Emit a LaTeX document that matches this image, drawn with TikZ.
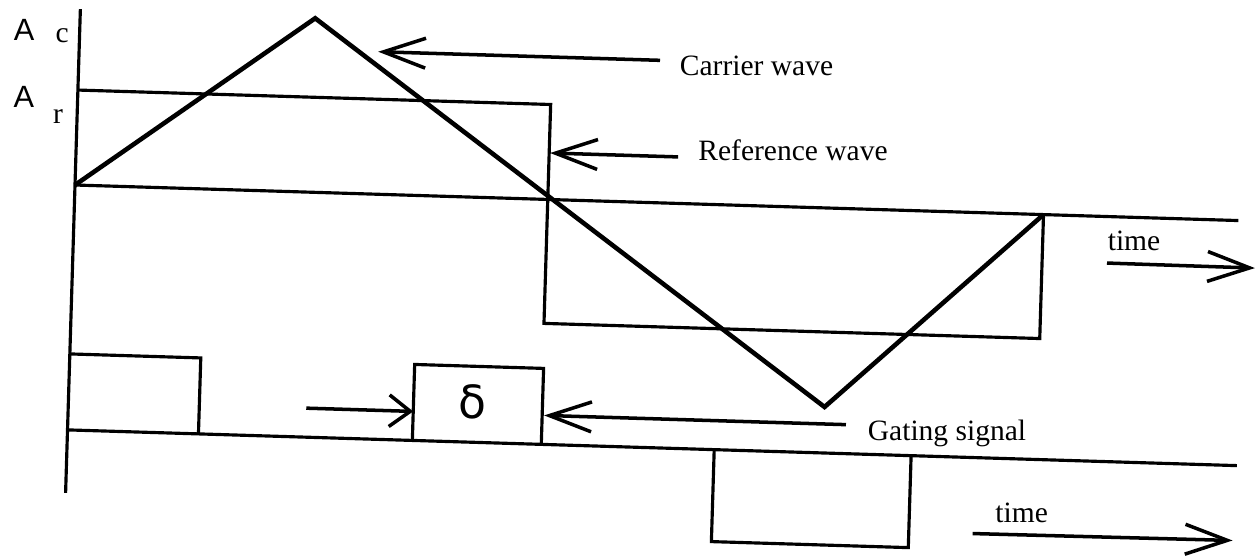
\documentclass[tikz,border=0pt]{standalone}
\usepackage{fontspec}
\setmainfont{Liberation Serif}
\newfontfamily\axisfont{Liberation Sans}
\newfontfamily\deltafont{DejaVu Sans}
\usetikzlibrary{arrows.meta}

\begin{document}
\begin{tikzpicture}[
  x=0.02cm, y=-0.02cm,
  wave/.style={line width=1.8pt, line join=miter},
  carrier/.style={line width=2.6pt, line join=miter},
  arrow/.style={-{Straight Barb[length=24pt, width=17pt]}, line width=2pt},
  lbl/.style={anchor=base west, inner sep=0pt, font=\fontsize{16.8}{18}\selectfont},
  axislbl/.style={anchor=base west, inner sep=0pt, font=\axisfont\fontsize{17.5}{18}\selectfont}
]
\useasboundingbox (0,0) rectangle (1257,556);

% the scanned sheet sits slightly skewed
\begin{scope}[shift={(75,185)}, rotate=-1.75]

% Axes
\draw[wave] (0,-176) -- (0,308);
\draw[wave] (0,0) -- (1164,0);
\draw[wave] (0,245) -- (1170,245);

% Waves
\draw[carrier] (0,0) -- (235,-174) -- (756,199) -- (969,0);
\draw[wave] (0,-95) -- (473,-95) -- (473,124) -- (969,124) -- (969,0);

% Gating pulses
\draw[wave] (0,169) -- (131,169) -- (131,245);
\draw[wave] (345,245) -- (345,169) -- (474,169) -- (474,245);
\draw[wave] (647,245) -- (647,337) -- (844,337) -- (844,245);

% Nodes
\node (Ac)  [axislbl] at (-66,-143) {A};
\node (subc) [lbl] at (-24,-142) {c};
\node (Ar)  [axislbl] at (-64,-76) {A};
\node (subr) [lbl] at (-24,-61) {r};

\node (carrierlbl) [lbl] at (601,-127.5) {Carrier wave};
\node (reflbl)     [lbl] at (622,-44) {Reference wave};
\node (timeA)      [lbl] at (1034,33.5) {time};
\node (gatelbl)    [lbl] at (800,231) {Gating signal};
\node (timeB)      [lbl] at (930,309) {time};
\node (delta) [inner sep=0pt, font=\deltafont\fontsize{26}{26}\selectfont] at (404,205) {δ};

\coordinate (carriertail) at (581,-142.5);
\coordinate (carriertip)  at (299,-142.5);
\coordinate (reftail)     at (602,-46.5);
\coordinate (reftip)      at (474,-46.5);
\coordinate (timeAtail)   at (1034,46.5);
\coordinate (timeAtip)    at (1182,47);
\coordinate (widthtail)   at (238,216);
\coordinate (widthtip)    at (345,216);
\coordinate (gatetail)    at (778,216);
\coordinate (gatetip)     at (476,216);
\coordinate (timeBtail)   at (908,321);
\coordinate (timeBtip)    at (1168,320);

% Arrows
\draw [arrow] (carriertail) -- (carriertip);
\draw [arrow] (reftail) -- (reftip);
\draw [arrow] (timeAtail) -- (timeAtip);
\draw [arrow, -{Straight Barb[length=12pt, width=18pt]}] (widthtail) -- (widthtip);
\draw [arrow] (gatetail) -- (gatetip);
\draw [arrow] (timeBtail) -- (timeBtip);

\end{scope}
\end{tikzpicture}
\end{document}
